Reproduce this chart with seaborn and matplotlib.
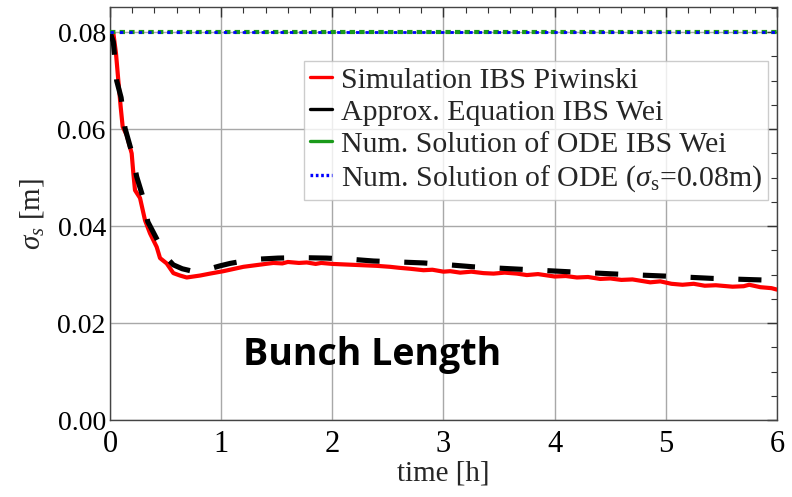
import numpy as np
import pandas as pd
import matplotlib
matplotlib.use("Agg")
import matplotlib.pyplot as plt
import seaborn as sns
from matplotlib.ticker import MultipleLocator, FormatStrFormatter

# Simulated bunch length (IBS, Piwinski model)
t_sim = [0.0, 0.03, 0.054, 0.075, 0.096, 0.114, 0.15, 0.195, 0.21, 0.225, 0.27,
         0.315, 0.36, 0.42, 0.45, 0.51, 0.57, 0.63, 0.69, 0.75, 0.81, 0.9, 1.02,
         1.1, 1.2, 1.3, 1.4, 1.47, 1.55, 1.6, 1.7, 1.77, 1.85, 1.9, 2.0, 2.1, 2.2,
         2.3, 2.4, 2.52, 2.6, 2.7, 2.82, 2.9, 3.0, 3.06, 3.15, 3.25, 3.36, 3.45,
         3.55, 3.66, 3.75, 3.85, 4.0, 4.1, 4.2, 4.3, 4.41, 4.5, 4.6, 4.7, 4.86,
         4.95, 5.05, 5.15, 5.25, 5.35, 5.45, 5.6, 5.7, 5.75, 5.85, 5.95, 6.0]
s_sim = [0.0800, 0.0798, 0.0756, 0.0700, 0.0646, 0.0605, 0.0588, 0.0550, 0.0509,
         0.0474, 0.0458, 0.0412, 0.0385, 0.0357, 0.0334, 0.0323, 0.0303, 0.0298,
         0.0294, 0.0296, 0.0298, 0.0302, 0.0307, 0.0311, 0.0316, 0.0319, 0.0322,
         0.0324, 0.0323, 0.0326, 0.0324, 0.0325, 0.0322, 0.0324, 0.0322, 0.0321,
         0.0320, 0.0319, 0.0318, 0.0316, 0.0314, 0.0312, 0.0309, 0.0310, 0.0306,
         0.0307, 0.0304, 0.0306, 0.0303, 0.0302, 0.0304, 0.0302, 0.0299, 0.0301,
         0.0296, 0.0297, 0.0294, 0.0295, 0.0291, 0.0292, 0.0289, 0.0290, 0.0284,
         0.0286, 0.0281, 0.0279, 0.0281, 0.0277, 0.0278, 0.0275, 0.0276, 0.0279,
         0.0274, 0.0272, 0.0269]

# Approximate equation (IBS, Wei)
t_wei = [0.0, 0.03, 0.06, 0.1, 0.135, 0.195, 0.24, 0.3, 0.34, 0.44, 0.5, 0.57,
         0.65, 0.76, 0.85, 0.99, 1.08, 1.2, 1.35, 1.51, 1.7, 1.95, 2.2, 2.37, 2.6,
         2.82, 3.0, 3.27, 3.69, 4.11, 4.56, 4.98, 5.43, 5.85, 6.0]
s_wei = [0.0800, 0.0780, 0.0700, 0.0665, 0.0602, 0.0553, 0.0502, 0.0457, 0.0409,
         0.0365, 0.0337, 0.0320, 0.0312, 0.0306, 0.0309, 0.0318, 0.0323, 0.0328,
         0.0332, 0.0334, 0.0335, 0.0334, 0.0331, 0.0328, 0.0326, 0.0324, 0.0321,
         0.0316, 0.0311, 0.0306, 0.0301, 0.0297, 0.0292, 0.0289, 0.0288]

# Numerical ODE solutions (constant bunch length)
t_ode = [0.0, 6.0]
s_ode_wei = [0.08, 0.08]
s_ode_const = [0.08, 0.08]

labels = ["Simulation IBS Piwinski", "Approx. Equation IBS Wei",
          "Num. Solution of ODE IBS Wei",
          r"Num. Solution of ODE ($\sigma_\mathrm{s}$=0.08m)"]

sns.set_style("white")
plt.rcParams["font.family"] = ["Liberation Serif", "DejaVu Serif"]
plt.rcParams["mathtext.fontset"] = "custom"
plt.rcParams["mathtext.rm"] = "Liberation Serif"
plt.rcParams["mathtext.it"] = "Liberation Serif:italic"

fig = plt.figure(figsize=(7.92, 4.97), dpi=100)
ax = fig.add_axes([110 / 792, 1 - 420 / 497, (777 - 110) / 792, (420 - 7) / 497])

df_sim = pd.DataFrame({"t": t_sim, "s": s_sim})
df_wei = pd.DataFrame({"t": t_wei, "s": s_wei})
df_ode1 = pd.DataFrame({"t": t_ode, "s": s_ode_wei})
df_ode2 = pd.DataFrame({"t": t_ode, "s": s_ode_const})

sns.lineplot(data=df_sim, x="t", y="s", ax=ax, color="#ff0000", lw=3.0,
             label=labels[0], zorder=3)
sns.lineplot(data=df_wei, x="t", y="s", ax=ax, color="black", lw=3.7,
             label=labels[1], zorder=4)
ax.lines[-1].set_dashes([4.5, 4.8])
sns.lineplot(data=df_ode1, x="t", y="s", ax=ax, color="#1a9a1a", lw=3.0,
             label=labels[2], zorder=4)
ax.lines[-1].set_dashes([1.3, 1.0])
sns.lineplot(data=df_ode2, x="t", y="s", ax=ax, color="#0000ff", lw=2.0,
             label=labels[3], zorder=5)
ax.lines[-1].set_dashes([1.2, 2.2])

ax.set_xlim(0, 6)
ax.set_ylim(0, 0.0852)
ax.xaxis.set_major_locator(MultipleLocator(1))
ax.xaxis.set_minor_locator(MultipleLocator(0.2))
ax.yaxis.set_major_locator(MultipleLocator(0.02))
ax.yaxis.set_minor_locator(MultipleLocator(0.005))
ax.yaxis.set_major_formatter(FormatStrFormatter("%.2f"))
ax.grid(True, which="major", color="#a8a8a8", lw=1.0)
ax.set_axisbelow(True)
ax.tick_params(which="both", direction="in", top=True, right=True,
               colors="#333333", labelcolor="black")
ax.tick_params(which="major", length=7, width=1)
ax.tick_params(which="minor", length=4, width=0.8)
ax.tick_params(axis="y", labelsize=20, pad=3)
ax.tick_params(axis="x", labelsize=22, pad=7)
for sp in ax.spines.values():
    sp.set_color("#444444")
    sp.set_linewidth(1.0)

ax.set_xlabel("time [h]", fontsize=21, labelpad=1)
ax.set_ylabel(r"$\sigma_s$ [m]", fontsize=21, labelpad=8)

leg = ax.legend(loc="upper right", bbox_to_anchor=(768 / 792, 1 - 61 / 497),
                bbox_transform=fig.transFigure, fontsize=21.5, frameon=True,
                fancybox=False, handlelength=0.72, handletextpad=0.3,
                borderpad=0.2, labelspacing=0.17, borderaxespad=0)
leg.get_frame().set_edgecolor("#c0c0c0")
leg.get_frame().set_linewidth(1.0)
hl = leg.get_lines()
for h in hl:
    h.set_linewidth(2.4)
    h.set_linestyle("-")
hl[3].set_dashes([0.8, 0.8])

ax.text(2.36, 0.0134, "Bunch Length", fontsize=27, fontweight="bold",
        family="Open Sans", ha="center", va="center", color="black")

fig.savefig("out.png", dpi=100)
